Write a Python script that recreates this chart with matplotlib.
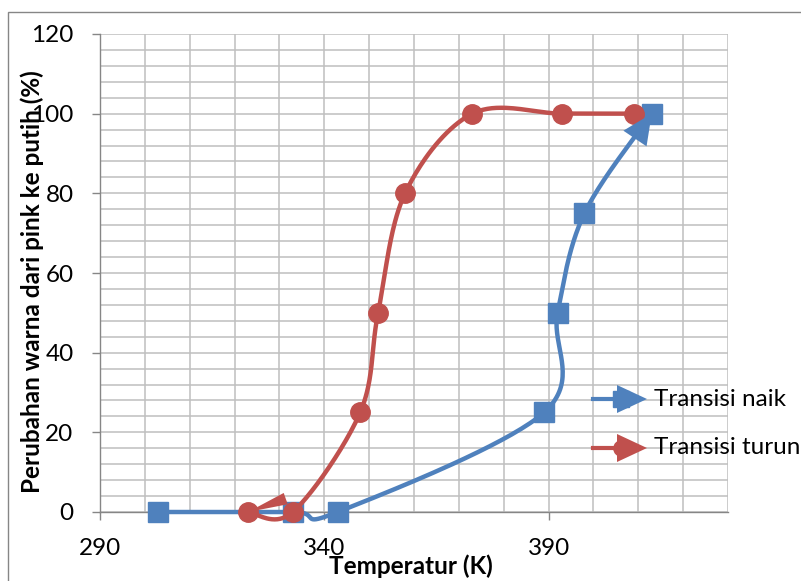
import numpy as np
import matplotlib
matplotlib.use("Agg")
import matplotlib.pyplot as plt
from matplotlib.patches import Polygon, Rectangle
from matplotlib.lines import Line2D

plt.rcParams['font.family'] = ['Lato', 'DejaVu Sans']

# heating run (squares) and cooling run (circles), in measured order
naik_temp = [303, 333, 343, 389, 392, 398, 413]
naik_pct = [0, 0, 0, 25, 50, 75, 100]
turun_temp = [409, 393, 373, 358, 352, 348, 333, 323]
turun_pct = [100, 100, 100, 80, 50, 25, 0, 0]

x_ticks = [290, 340, 390]
y_ticks = [0, 20, 40, 60, 80, 100, 120]

BLUE = '#4F81BD'
RED = '#C0504D'
GRID = '#BFBFBF'
AXC = '#868686'

W, H = 801, 581


def smooth(xs, ys, n=40):
    # spreadsheet-style smoothed line: Catmull-Rom turned into cubic Beziers
    p = np.column_stack([xs, ys]).astype(float)
    ext = np.vstack([p[0], p, p[-1]])
    out = []
    t = np.linspace(0, 1, n)[:, None]
    for i in range(len(p) - 1):
        p0, p1, p2, p3 = ext[i], ext[i + 1], ext[i + 2], ext[i + 3]
        c1 = p1 + (p2 - p0) / 6
        c2 = p2 - (p3 - p1) / 6
        seg = ((1 - t) ** 3) * p1 + 3 * ((1 - t) ** 2) * t * c1 \
            + 3 * (1 - t) * t ** 2 * c2 + t ** 3 * p2
        out.append(seg if i == 0 else seg[1:])
    out = np.vstack(out)
    return out[:, 0], out[:, 1]


def px(x, y):
    return (x / W, 1 - y / H)


def arrow_head(fig, tip, back, length, half, color, z):
    # triangle in figure pixels, tip at 'tip', pointing away from 'back'
    tip = np.asarray(tip, float)
    d = tip - np.asarray(back, float)
    d /= np.hypot(*d)
    nrm = np.array([-d[1], d[0]])
    base = tip - d * length
    pts = [tip, base + nrm * half, base - nrm * half]
    fig.patches.append(Polygon([(a / W, b / H) for a, b in pts],
                               closed=True, transform=fig.transFigure,
                               facecolor=color, edgecolor='none', zorder=z))


fig = plt.figure(figsize=(W / 100, H / 100), dpi=100)
fig.patches.append(Rectangle(px(8, 600), 820 / W, 588 / H,
                             transform=fig.transFigure, fill=False,
                             edgecolor=AXC, lw=1.0))

ax = fig.add_axes([100 / W, (H - 512) / H, 628 / W, 478 / H])
ax.set_xlim(290, 430)
ax.set_ylim(0, 120)
ax.set_xticks(x_ticks)
ax.set_yticks(y_ticks)
ax.set_xticks(np.arange(290, 431, 10), minor=True)
ax.set_yticks(np.arange(0, 121, 4), minor=True)
ax.grid(which='both', color=GRID, lw=1.1)
ax.tick_params(which='minor', length=0)
ax.tick_params(which='major', length=6, width=1, color=AXC, labelsize=17.5,
               labelcolor='black')
ax.tick_params(axis='x', pad=13)
ax.tick_params(axis='y', pad=13)
ax.set_axisbelow(True)
for s in ('top', 'right'):
    ax.spines[s].set_visible(False)
for s in ('left', 'bottom'):
    ax.spines[s].set_color(AXC)
    ax.spines[s].set_linewidth(1.0)

bx, by = smooth(naik_temp, naik_pct)
rx, ry = smooth(turun_temp, turun_pct)
ax.plot(bx, by, color=BLUE, lw=3.2, zorder=3, solid_capstyle='butt', clip_on=False)
ax.plot(naik_temp, naik_pct, ls='none', marker='s', ms=14, color=BLUE,
        zorder=4, clip_on=False)
ax.plot(rx, ry, color=RED, lw=3.2, zorder=5, solid_capstyle='butt', clip_on=False)
ax.plot(turun_temp, turun_pct, ls='none', marker='o', ms=14, color=RED,
        zorder=6, clip_on=False)

# arrow heads at the end of each run, aligned with the last tangent
fig.canvas.draw()
to_px = lambda x, y: (lambda d: (d[0], d[1]))(ax.transData.transform((x, y)))
tip = to_px(naik_temp[-1], naik_pct[-1])
back = to_px(naik_temp[-2], naik_pct[-2])
arrow_head(fig, tip, back, 30, 14, BLUE, 3.5)
tip = to_px(turun_temp[-1], turun_pct[-1])
back = to_px(turun_temp[-2], turun_pct[-2] + 4)
arrow_head(fig, tip, back, 40, 6, RED, 5.5)

# legend drawn by hand: line, marker, arrow head, label
for yy, col, mk, lab in [(399, BLUE, 's', 'Transisi naik'),
                         (448, RED, 'o', 'Transisi turun')]:
    fig.lines.append(Line2D([593 / W, 620 / W], [1 - yy / H] * 2, color=col,
                            lw=3, transform=fig.transFigure))
    fig.lines.append(Line2D([621 / W], [1 - yy / H], marker=mk, ms=11,
                            color=col, transform=fig.transFigure))
    arrow_head(fig, (647, H - yy), (600, H - yy), 30, 14, col, 3)
    fig.text(654 / W, 1 - yy / H, lab, fontsize=17.5, va='center', ha='left')

fig.text(411 / W, 1 - 566 / H, 'Temperatur (K)', fontsize=17.5,
         fontweight='bold', ha='center', va='center')
fig.text(32 / W, 1 - 282 / H, 'Perubahan warna dari pink ke putih (%)',
         fontsize=17.5, fontweight='bold', ha='center', va='center',
         rotation=90)

fig.savefig('out.png', dpi=100)
